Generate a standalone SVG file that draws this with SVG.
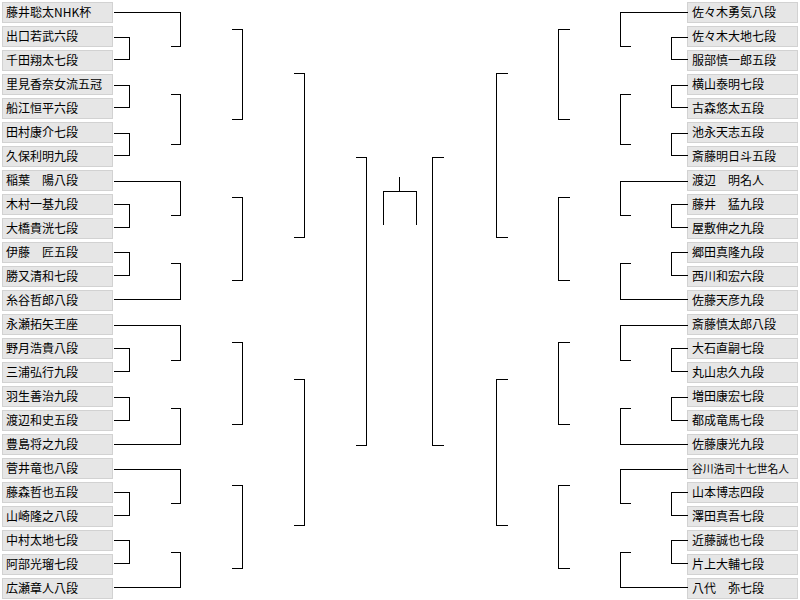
<svg xmlns="http://www.w3.org/2000/svg" width="800" height="600" viewBox="0 0 800 600">
<style>
.bx{fill:#e6e6e6;stroke:#d2d2d2;stroke-width:1}
.t{font-family:"Noto Sans CJK JP","Noto Sans CJK SC",sans-serif;font-size:12px;fill:#000}
.c polyline{fill:none;stroke:#000;stroke-width:1}
</style>
<rect width="800" height="600" fill="#fff"/>
<g id="left" shape-rendering="crispEdges">
<g id="L0"><rect class="bx" x="2.5" y="2.5" width="110" height="20"/><text class="t" x="6" y="17">藤井聡太NHK杯</text></g>
<g id="L1"><rect class="bx" x="2.5" y="26.5" width="110" height="20"/><text class="t" x="6" y="41">出口若武六段</text></g>
<g id="L2"><rect class="bx" x="2.5" y="50.5" width="110" height="20"/><text class="t" x="6" y="65">千田翔太七段</text></g>
<g id="L3"><rect class="bx" x="2.5" y="74.5" width="110" height="20"/><text class="t" x="6" y="89">里見香奈女流五冠</text></g>
<g id="L4"><rect class="bx" x="2.5" y="98.5" width="110" height="20"/><text class="t" x="6" y="113">船江恒平六段</text></g>
<g id="L5"><rect class="bx" x="2.5" y="122.5" width="110" height="20"/><text class="t" x="6" y="137">田村康介七段</text></g>
<g id="L6"><rect class="bx" x="2.5" y="146.5" width="110" height="20"/><text class="t" x="6" y="161">久保利明九段</text></g>
<g id="L7"><rect class="bx" x="2.5" y="170.5" width="110" height="20"/><text class="t" x="6" y="185">稲葉　陽八段</text></g>
<g id="L8"><rect class="bx" x="2.5" y="194.5" width="110" height="20"/><text class="t" x="6" y="209">木村一基九段</text></g>
<g id="L9"><rect class="bx" x="2.5" y="218.5" width="110" height="20"/><text class="t" x="6" y="233">大橋貴洸七段</text></g>
<g id="L10"><rect class="bx" x="2.5" y="242.5" width="110" height="20"/><text class="t" x="6" y="257">伊藤　匠五段</text></g>
<g id="L11"><rect class="bx" x="2.5" y="266.5" width="110" height="20"/><text class="t" x="6" y="281">勝又清和七段</text></g>
<g id="L12"><rect class="bx" x="2.5" y="290.5" width="110" height="20"/><text class="t" x="6" y="305">糸谷哲郎八段</text></g>
<g id="L13"><rect class="bx" x="2.5" y="314.5" width="110" height="20"/><text class="t" x="6" y="329">永瀬拓矢王座</text></g>
<g id="L14"><rect class="bx" x="2.5" y="338.5" width="110" height="20"/><text class="t" x="6" y="353">野月浩貴八段</text></g>
<g id="L15"><rect class="bx" x="2.5" y="362.5" width="110" height="20"/><text class="t" x="6" y="377">三浦弘行九段</text></g>
<g id="L16"><rect class="bx" x="2.5" y="386.5" width="110" height="20"/><text class="t" x="6" y="401">羽生善治九段</text></g>
<g id="L17"><rect class="bx" x="2.5" y="410.5" width="110" height="20"/><text class="t" x="6" y="425">渡辺和史五段</text></g>
<g id="L18"><rect class="bx" x="2.5" y="434.5" width="110" height="20"/><text class="t" x="6" y="449">豊島将之九段</text></g>
<g id="L19"><rect class="bx" x="2.5" y="458.5" width="110" height="20"/><text class="t" x="6" y="473">菅井竜也八段</text></g>
<g id="L20"><rect class="bx" x="2.5" y="482.5" width="110" height="20"/><text class="t" x="6" y="497">藤森哲也五段</text></g>
<g id="L21"><rect class="bx" x="2.5" y="506.5" width="110" height="20"/><text class="t" x="6" y="521">山崎隆之八段</text></g>
<g id="L22"><rect class="bx" x="2.5" y="530.5" width="110" height="20"/><text class="t" x="6" y="545">中村太地七段</text></g>
<g id="L23"><rect class="bx" x="2.5" y="554.5" width="110" height="20"/><text class="t" x="6" y="569">阿部光瑠七段</text></g>
<g id="L24"><rect class="bx" x="2.5" y="578.5" width="110" height="20"/><text class="t" x="6" y="593">広瀬章人八段</text></g>
</g>
<g id="right" shape-rendering="crispEdges">
<g id="R0"><rect class="bx" x="687.5" y="2.5" width="110" height="20"/><text class="t" x="692" y="17">佐々木勇気八段</text></g>
<g id="R1"><rect class="bx" x="687.5" y="26.5" width="110" height="20"/><text class="t" x="692" y="41">佐々木大地七段</text></g>
<g id="R2"><rect class="bx" x="687.5" y="50.5" width="110" height="20"/><text class="t" x="692" y="65">服部慎一郎五段</text></g>
<g id="R3"><rect class="bx" x="687.5" y="74.5" width="110" height="20"/><text class="t" x="692" y="89">横山泰明七段</text></g>
<g id="R4"><rect class="bx" x="687.5" y="98.5" width="110" height="20"/><text class="t" x="692" y="113">古森悠太五段</text></g>
<g id="R5"><rect class="bx" x="687.5" y="122.5" width="110" height="20"/><text class="t" x="692" y="137">池永天志五段</text></g>
<g id="R6"><rect class="bx" x="687.5" y="146.5" width="110" height="20"/><text class="t" x="692" y="161">斎藤明日斗五段</text></g>
<g id="R7"><rect class="bx" x="687.5" y="170.5" width="110" height="20"/><text class="t" x="692" y="185">渡辺　明名人</text></g>
<g id="R8"><rect class="bx" x="687.5" y="194.5" width="110" height="20"/><text class="t" x="692" y="209">藤井　猛九段</text></g>
<g id="R9"><rect class="bx" x="687.5" y="218.5" width="110" height="20"/><text class="t" x="692" y="233">屋敷伸之九段</text></g>
<g id="R10"><rect class="bx" x="687.5" y="242.5" width="110" height="20"/><text class="t" x="692" y="257">郷田真隆九段</text></g>
<g id="R11"><rect class="bx" x="687.5" y="266.5" width="110" height="20"/><text class="t" x="692" y="281">西川和宏六段</text></g>
<g id="R12"><rect class="bx" x="687.5" y="290.5" width="110" height="20"/><text class="t" x="692" y="305">佐藤天彦九段</text></g>
<g id="R13"><rect class="bx" x="687.5" y="314.5" width="110" height="20"/><text class="t" x="692" y="329">斎藤慎太郎八段</text></g>
<g id="R14"><rect class="bx" x="687.5" y="338.5" width="110" height="20"/><text class="t" x="692" y="353">大石直嗣七段</text></g>
<g id="R15"><rect class="bx" x="687.5" y="362.5" width="110" height="20"/><text class="t" x="692" y="377">丸山忠久九段</text></g>
<g id="R16"><rect class="bx" x="687.5" y="386.5" width="110" height="20"/><text class="t" x="692" y="401">増田康宏七段</text></g>
<g id="R17"><rect class="bx" x="687.5" y="410.5" width="110" height="20"/><text class="t" x="692" y="425">都成竜馬七段</text></g>
<g id="R18"><rect class="bx" x="687.5" y="434.5" width="110" height="20"/><text class="t" x="692" y="449">佐藤康光九段</text></g>
<g id="R19"><rect class="bx" x="687.5" y="458.5" width="110" height="20"/><text class="t" x="692" y="473" style="font-size:10.8px">谷川浩司十七世名人</text></g>
<g id="R20"><rect class="bx" x="687.5" y="482.5" width="110" height="20"/><text class="t" x="692" y="497">山本博志四段</text></g>
<g id="R21"><rect class="bx" x="687.5" y="506.5" width="110" height="20"/><text class="t" x="692" y="521">澤田真吾七段</text></g>
<g id="R22"><rect class="bx" x="687.5" y="530.5" width="110" height="20"/><text class="t" x="692" y="545">近藤誠也七段</text></g>
<g id="R23"><rect class="bx" x="687.5" y="554.5" width="110" height="20"/><text class="t" x="692" y="569">片上大輔七段</text></g>
<g id="R24"><rect class="bx" x="687.5" y="578.5" width="110" height="20"/><text class="t" x="692" y="593">八代　弥七段</text></g>
</g>
<g id="connectors" class="c" transform="translate(0.5,0.5)" shape-rendering="crispEdges">
<polyline points="113,12 180,12 180,46 170,46"/>
<polyline points="113,37 129,37 129,59 113,59"/>
<polyline points="113,85 129,85 129,107 113,107"/>
<polyline points="113,133 129,133 129,155 113,155"/>
<polyline points="170,94 180,94 180,144 170,144"/>
<polyline points="113,181 180,181 180,215 170,215"/>
<polyline points="113,204 129,204 129,227 113,227"/>
<polyline points="113,252 129,252 129,275 113,275"/>
<polyline points="170,263 180,263 180,299 113,299"/>
<polyline points="113,325 180,325 180,360 170,360"/>
<polyline points="113,348 129,348 129,371 113,371"/>
<polyline points="113,397 129,397 129,420 113,420"/>
<polyline points="170,408 180,408 180,444 113,444"/>
<polyline points="113,469 180,469 180,503 170,503"/>
<polyline points="113,492 129,492 129,515 113,515"/>
<polyline points="113,540 129,540 129,563 113,563"/>
<polyline points="170,552 180,552 180,587 113,587"/>
<polyline points="231,29 242,29 242,119 231,119"/>
<polyline points="231,197 242,197 242,280 231,280"/>
<polyline points="231,342 242,342 242,424 231,424"/>
<polyline points="231,485 242,485 242,568 231,568"/>
<polyline points="293,73 304,73 304,237 293,237"/>
<polyline points="293,379 304,379 304,525 293,525"/>
<polyline points="355,157 366,157 366,445 355,445"/>
<polyline points="687,12 620,12 620,46 630,46"/>
<polyline points="687,37 671,37 671,59 687,59"/>
<polyline points="687,85 671,85 671,107 687,107"/>
<polyline points="687,133 671,133 671,155 687,155"/>
<polyline points="630,94 620,94 620,144 630,144"/>
<polyline points="687,181 620,181 620,215 630,215"/>
<polyline points="687,204 671,204 671,227 687,227"/>
<polyline points="687,252 671,252 671,275 687,275"/>
<polyline points="630,263 620,263 620,299 687,299"/>
<polyline points="687,325 620,325 620,360 630,360"/>
<polyline points="687,348 671,348 671,371 687,371"/>
<polyline points="687,397 671,397 671,420 687,420"/>
<polyline points="630,408 620,408 620,444 687,444"/>
<polyline points="687,469 620,469 620,503 630,503"/>
<polyline points="687,492 671,492 671,515 687,515"/>
<polyline points="687,540 671,540 671,563 687,563"/>
<polyline points="630,552 620,552 620,587 687,587"/>
<polyline points="569,29 558,29 558,119 569,119"/>
<polyline points="569,197 558,197 558,280 569,280"/>
<polyline points="569,342 558,342 558,424 569,424"/>
<polyline points="569,485 558,485 558,568 569,568"/>
<polyline points="507,73 496,73 496,237 507,237"/>
<polyline points="507,379 496,379 496,525 507,525"/>
<polyline points="443,157 432,157 432,445 443,445"/>
<polyline points="383,224 383,191 416,191 416,224"/>
<polyline points="399,176 399,191"/>
</g>
</svg>
